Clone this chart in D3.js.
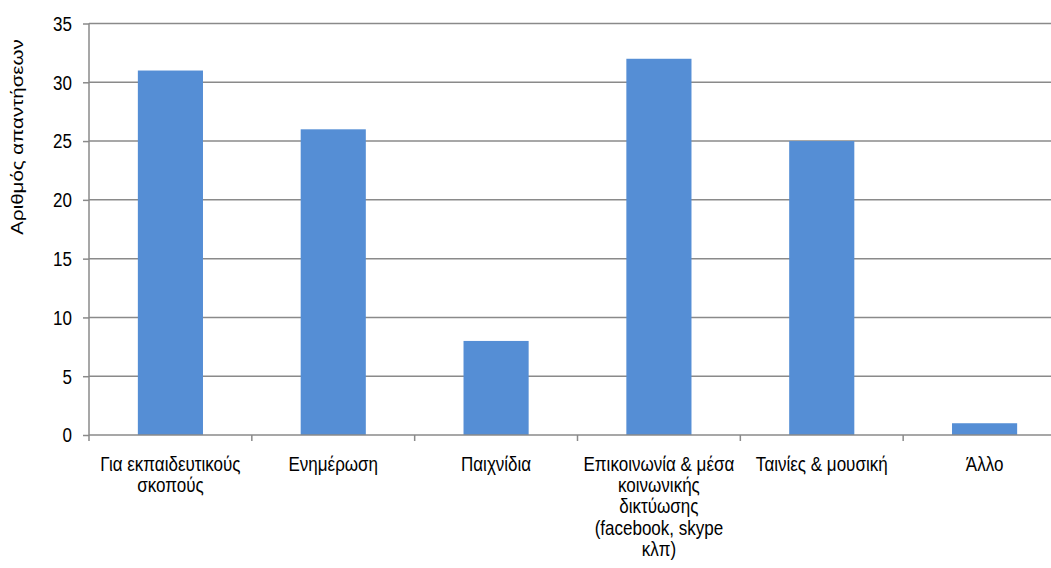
<!DOCTYPE html>
<html>
<head>
<meta charset="utf-8">
<script src="https://cdn.jsdelivr.net/npm/d3@7"></script>
<style>
  html, body { margin: 0; padding: 0; background: #ffffff; }
  svg { display: block; }
  text { font-family: "Liberation Sans", Arial, sans-serif; fill: #000; }
</style>
</head>
<body>
<svg id="chart" width="1051" height="568"></svg>
<script>
// Category labels (line breaks as shown under each bar)
const categories = [
  ["Για εκπαιδευτικούς", "σκοπούς"],
  ["Ενημέρωση"],
  ["Παιχνίδια"],
  ["Επικοινωνία & μέσα", "κοινωνικής", "δικτύωσης", "(facebook, skype", "κλπ)"],
  ["Ταινίες & μουσική"],
  ["Άλλο"]
];
const values = [31, 26, 8, 32, 25, 1];
const yTicks = [0, 5, 10, 15, 20, 25, 30, 35];
const yTitle = "Αριθμός απαντήσεων";

const svg = d3.select("#chart");
const plotLeft = 89, plotRight = 1066, plotTop = 23.5, plotBottom = 435;
const fontSize = 20.5;     // label font size
const squeeze = 0.83;      // narrow glyph width

const x = d3.scaleBand()
  .domain(d3.range(categories.length))
  .range([plotLeft, plotRight])
  .paddingInner(0.6)
  .paddingOuter(0.3);

const xEdge = d3.scaleLinear()
  .domain([0, categories.length])
  .range([plotLeft, plotRight]);

const y = d3.scaleLinear().domain([0, 35]).range([plotBottom, plotTop]);

// Horizontal gridlines
svg.append("g")
  .selectAll("line")
  .data(yTicks.filter(d => d > 0))
  .join("line")
  .attr("x1", plotLeft).attr("x2", 1051)
  .attr("y1", d => y(d)).attr("y2", d => y(d))
  .attr("stroke", "#8a8a8a").attr("stroke-width", 1.5);

// Bars
svg.append("g")
  .selectAll("rect")
  .data(values)
  .join("rect")
  .attr("x", (d, i) => x(i))
  .attr("width", x.bandwidth())
  .attr("y", d => y(d))
  .attr("height", d => y(0) - y(d))
  .attr("fill", "#558ed5");

// Y axis (line and ticks); labels drawn separately below
const yAxis = svg.append("g")
  .attr("transform", `translate(${plotLeft},0)`)
  .call(d3.axisLeft(y).tickValues(yTicks).tickSize(6).tickFormat(""));
yAxis.select(".domain").attr("stroke", "#8a8a8a").attr("stroke-width", 1.5)
  .attr("d", `M0,${y(35)}V${y(0)}`);
yAxis.selectAll(".tick line").attr("stroke", "#8a8a8a").attr("stroke-width", 1.5);

svg.append("g")
  .selectAll("text")
  .data(yTicks)
  .join("text")
  .attr("transform", d => `translate(72,${y(d)}) scale(${squeeze},1)`)
  .attr("text-anchor", "end")
  .attr("dy", "0.36em")
  .style("font-size", fontSize + "px")
  .text(d => d);

// X axis line and category boundary ticks
svg.append("line")
  .attr("x1", plotLeft).attr("x2", 1051)
  .attr("y1", y(0)).attr("y2", y(0))
  .attr("stroke", "#8a8a8a").attr("stroke-width", 1.5);
svg.append("g")
  .selectAll("line")
  .data(d3.range(categories.length + 1))
  .join("line")
  .attr("x1", d => xEdge(d)).attr("x2", d => xEdge(d))
  .attr("y1", y(0)).attr("y2", y(0) + 6)
  .attr("stroke", "#8a8a8a").attr("stroke-width", 1.5);

// Category labels
const labels = svg.append("g")
  .selectAll("text")
  .data(categories)
  .join("text")
  .attr("text-anchor", "middle")
  .style("font-size", fontSize + "px")
  .attr("transform", (d, i) => `translate(${x(i) + x.bandwidth() / 2},471) scale(${squeeze},1)`);
labels.selectAll("tspan")
  .data(d => d)
  .join("tspan")
  .attr("x", 0)
  .attr("y", (d, j) => j * 21.2)
  .text(d => d);

// Y axis title
svg.append("text")
  .attr("transform", `translate(17,137) scale(${squeeze},1) rotate(-90)`)
  .attr("text-anchor", "middle")
  .attr("dy", "0.35em")
  .style("font-size", fontSize + "px")
  .text(yTitle);
</script>
</body>
</html>
